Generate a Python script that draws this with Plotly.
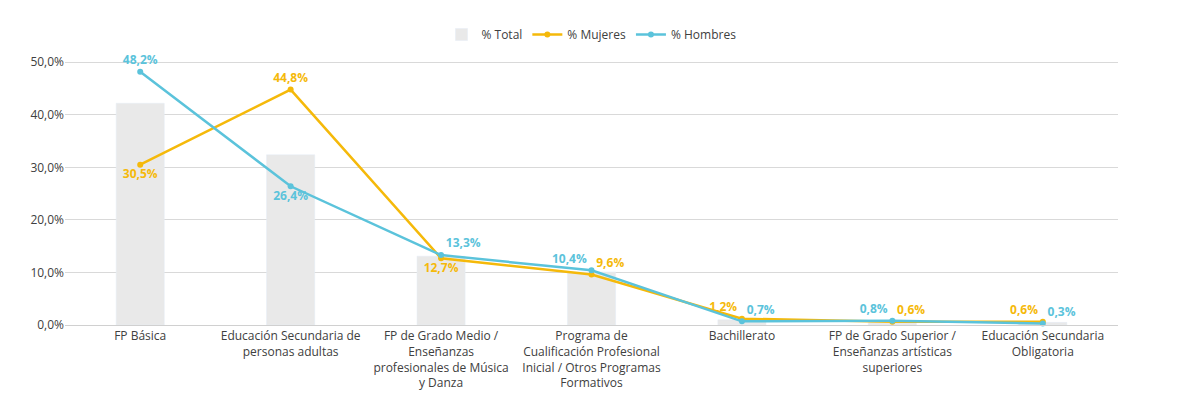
import plotly.graph_objects as go

categorias = [
    "FP Básica",
    "Educación Secundaria de<br>personas adultas",
    "FP de Grado Medio /<br>Enseñanzas<br>profesionales de Música<br>y Danza",
    "Programa de<br>Cualificación Profesional<br>Inicial / Otros Programas<br>Formativos",
    "Bachillerato",
    "FP de Grado Superior /<br>Enseñanzas artísticas<br>superiores",
    "Educación Secundaria<br>Obligatoria",
]
total = [42.2, 32.4, 13.1, 10.1, 1.0, 0.7, 0.5]
mujeres = [30.5, 44.8, 12.7, 9.6, 1.2, 0.6, 0.6]
hombres = [48.2, 26.4, 13.3, 10.4, 0.7, 0.8, 0.3]
ticks = [0, 10, 20, 30, 40, 50]

def fmt(v):
    return f"<b>{v:.1f}%</b>".replace(".", ",")

def fmt_tick(v):
    return f"{v:.1f}%".replace(".", ",")

amarillo = "#F5B90A"
azul = "#5BC3DB"

fig = go.Figure()
fig.add_trace(go.Bar(x=categorias, y=total, name="% Total", marker_color="#E9E9E9", width=0.32))
fig.add_trace(go.Scatter(
    x=categorias, y=mujeres, name="% Mujeres", mode="lines+markers+text",
    line=dict(color=amarillo, width=2.5), marker=dict(size=6),
    text=[fmt(v) for v in mujeres],
    textposition=["bottom center", "top center", "bottom center", "top right",
                  "top left", "top right", "top left"],
    textfont=dict(color=amarillo, size=12, family="Open Sans"),
))
fig.add_trace(go.Scatter(
    x=categorias, y=hombres, name="% Hombres", mode="lines+markers+text",
    line=dict(color=azul, width=2.5), marker=dict(size=6),
    text=[fmt(v) for v in hombres],
    textposition=["top center", "bottom center", "top right", "top left",
                  "top right", "top left", "top right"],
    textfont=dict(color=azul, size=12, family="Open Sans"),
))
fig.update_layout(
    width=1180, height=410,
    margin=dict(l=57, r=70, t=43, b=93),
    plot_bgcolor="white", paper_bgcolor="white",
    font=dict(family="Open Sans", size=12, color="#404040"),
    legend=dict(orientation="h", x=0.5, xanchor="center", y=1.03, yanchor="bottom",
                font=dict(size=12)),
    showlegend=True,
    yaxis=dict(range=[0, 51], tickvals=ticks, ticktext=[fmt_tick(t) for t in ticks],
               gridcolor="#D9D9D9", zeroline=False, ticks="", fixedrange=True,
               automargin=False),
    xaxis=dict(showline=True, linecolor="#D0D0D0", tickangle=0, automargin=False),
)
fig.update_traces(cliponaxis=False, selector=dict(type="scatter"))
fig.write_html("out.html")
